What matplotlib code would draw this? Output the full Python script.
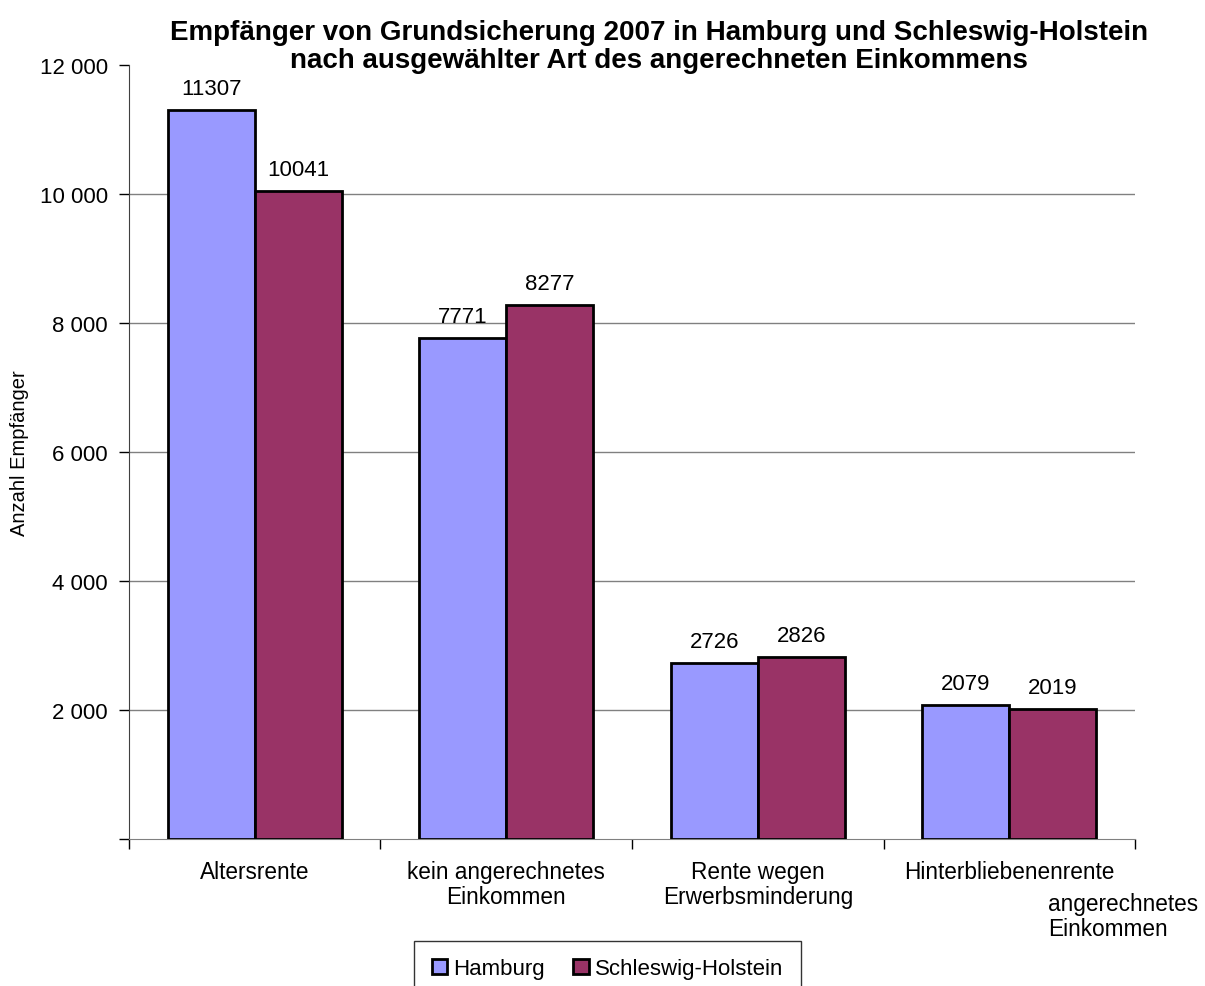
import numpy as np
import matplotlib
matplotlib.use("Agg")
import matplotlib.pyplot as plt
from matplotlib.patches import Patch

plt.rcParams['font.family'] = ['Liberation Sans', 'DejaVu Sans']

categories = ['Altersrente', 'kein angerechnetes\nEinkommen',
              'Rente wegen\nErwerbsminderung', 'Hinterbliebenenrente']
hamburg = [11307, 7771, 2726, 2079]
schleswig = [10041, 8277, 2826, 2019]
series_names = ['Hamburg', 'Schleswig-Holstein']
colors = ['#9999FF', '#993366']
yticks = [0, 2000, 4000, 6000, 8000, 10000, 12000]

fig = plt.figure(figsize=(12.05, 9.87), dpi=100)
ax = fig.add_axes([0.107, 0.149, 0.835, 0.784])

x = np.arange(len(categories))
w = 0.346
bars_h = ax.bar(x - w / 2, hamburg, w, color=colors[0], edgecolor='black', linewidth=2, zorder=3)
bars_s = ax.bar(x + w / 2, schleswig, w, color=colors[1], edgecolor='black', linewidth=2, zorder=3)

for bars, vals in [(bars_h, hamburg), (bars_s, schleswig)]:
    for b, v in zip(bars, vals):
        ax.annotate(str(v), (b.get_x() + b.get_width() / 2, v), xytext=(0, 8),
                    textcoords='offset points', ha='center', va='bottom', fontsize=16)

ax.set_xlim(-0.5, len(categories) - 0.5)
ax.set_ylim(0, 12000)
ax.set_yticks(yticks)
ax.set_yticklabels([''] + [f'{t:,}'.replace(',', ' ') for t in yticks[1:]], fontsize=16)
ax.hlines(yticks[1:-1], -0.5, len(categories) - 0.5, color='#808080', linewidth=1, zorder=1)

ax.set_xticks(x)
ax.set_xticklabels(categories, fontsize=16.3, linespacing=1.15)
ax.set_xticks(np.arange(-0.5, len(categories)), minor=True)
ax.tick_params(axis='x', which='major', length=0, pad=15)
ax.tick_params(axis='x', which='minor', length=7, direction='out', width=1)
ax.tick_params(axis='y', length=7, width=1, pad=8)

ax.text(3.155, -830, 'angerechnetes\nEinkommen', ha='left', va='top', fontsize=16.3,
        linespacing=1.1)

for s in ['top', 'right']:
    ax.spines[s].set_visible(False)
ax.spines['bottom'].set_color('#808080')
ax.spines['left'].set_color('#404040')

ax.set_ylabel('Anzahl Empfänger', fontsize=14.5, labelpad=8)

fig.suptitle('Empfänger von Grundsicherung 2007 in Hamburg und Schleswig-Holstein\n'
             'nach ausgewählter Art des angerechneten Einkommens',
             x=0.547, y=0.98, fontsize=20, fontweight='bold', linespacing=1.1)

handles = [Patch(facecolor=c, edgecolor='black', linewidth=2) for c in colors]
leg = fig.legend(handles, series_names, loc='upper center', bbox_to_anchor=(0.504, 0.046),
                 ncol=2, fontsize=16, frameon=True, fancybox=False, handlelength=0.7,
                 handleheight=0.7, handletextpad=0.25, columnspacing=1.3,
                 borderpad=0.8, borderaxespad=0)
leg.get_frame().set_edgecolor('black')
leg.get_frame().set_linewidth(1)

fig.savefig('out.png', dpi=100)
